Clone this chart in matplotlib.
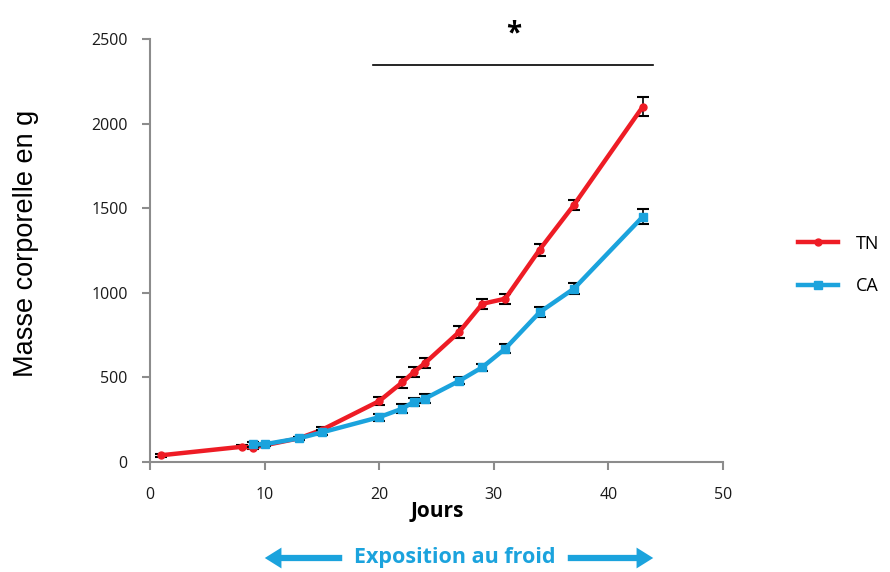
import matplotlib
matplotlib.use("Agg")
import matplotlib.pyplot as plt
from matplotlib.patches import FancyArrowPatch
from matplotlib.lines import Line2D

# Data
tn_days = [1, 8, 9, 13, 15, 20, 22, 23, 24, 27, 29, 31, 34, 37, 43]
tn_mass = [40, 90, 85, 140, 190, 360, 470, 530, 585, 770, 935, 965, 1255, 1520, 2100]
tn_err = [10, 10, 10, 10, 15, 25, 30, 30, 30, 35, 30, 30, 35, 30, 55]

ca_days = [9, 10, 13, 15, 20, 22, 23, 24, 27, 29, 31, 34, 37, 43]
ca_mass = [105, 105, 140, 175, 265, 315, 355, 375, 480, 560, 670, 885, 1025, 1450]
ca_err = [15, 10, 10, 15, 20, 25, 25, 25, 20, 20, 25, 30, 30, 45]

sig_range = [19.5, 43.9]
sig_level = 2345

x_ticks = [0, 10, 20, 30, 40, 50]
y_ticks = [0, 500, 1000, 1500, 2000, 2500]

RED = "#EE1C25"
BLUE = "#1BA3DD"
GRAY = "#8C8C8C"
FONT = ["Open Sans", "DejaVu Sans"]

plt.rcParams["font.family"] = FONT

fig = plt.figure(figsize=(8.9, 5.72), dpi=100)
ax = fig.add_axes([150/890, 1-462/572, (723-150)/890, (462-39)/572])

ax.errorbar(tn_days, tn_mass, yerr=tn_err, color=RED, lw=3.2, marker="o", ms=5,
            ecolor="black", elinewidth=1.2, capsize=4, capthick=1.5, zorder=3)
ax.errorbar(ca_days, ca_mass, yerr=ca_err, color=BLUE, lw=3.2, marker="s", ms=6,
            ecolor="black", elinewidth=1.2, capsize=4, capthick=1.5, zorder=4)

ax.set_xlim(0, 50)
ax.set_ylim(0, 2500)
ax.set_xticks(x_ticks)
ax.set_yticks(y_ticks)
for s in ["top", "right"]:
    ax.spines[s].set_visible(False)
for s in ["left", "bottom"]:
    ax.spines[s].set_color(GRAY)
    ax.spines[s].set_linewidth(1.5)
ax.tick_params(axis="both", colors=GRAY, length=6, width=1.5, labelsize=11.5,
               labelcolor="#1a1a1a", direction="out")
ax.tick_params(axis="x", pad=12)
ax.tick_params(axis="y", pad=10)

fig.text(26/890, 1-243/572, "Masse corporelle en g", rotation=90, ha="center",
         va="center", fontsize=19.5, family=["Liberation Sans", "DejaVu Sans"],
         color="black")

# significance bar
ax.plot(sig_range, [sig_level, sig_level], color="black", lw=1.2, clip_on=False)
ax.text(sum(sig_range)/2, 2530, "*", ha="center", va="center", fontsize=20,
        fontweight="bold", clip_on=False)

fig.text(437/890, 1-512/572, "Jours", ha="center", va="center", fontsize=15,
         fontweight="bold")

# cold exposure arrows
fig.text(455/890, 1-558/572, "Exposition au froid", ha="center", va="center",
         fontsize=15.5, fontweight="bold", color=BLUE)
for x0, x1 in [(345, 262), (565, 656)]:
    arr = FancyArrowPatch((x0/890, 1-558/572), (x1/890, 1-558/572),
                          transform=fig.transFigure,
                          arrowstyle="simple,head_length=12,head_width=15,tail_width=4.5",
                          mutation_scale=1, lw=0, color=BLUE)
    fig.patches.append(arr)

handles = [Line2D([], [], color=RED, lw=3.2, marker="o", ms=5),
           Line2D([], [], color=BLUE, lw=3.2, marker="s", ms=6)]
fig.legend(handles, ["TN", "CA"], loc="center left", bbox_to_anchor=(782/890, 1-265/572),
           frameon=False, fontsize=13, handlelength=2.2, labelspacing=1.35,
           handletextpad=1.0)

fig.savefig("out.png", dpi=100)
